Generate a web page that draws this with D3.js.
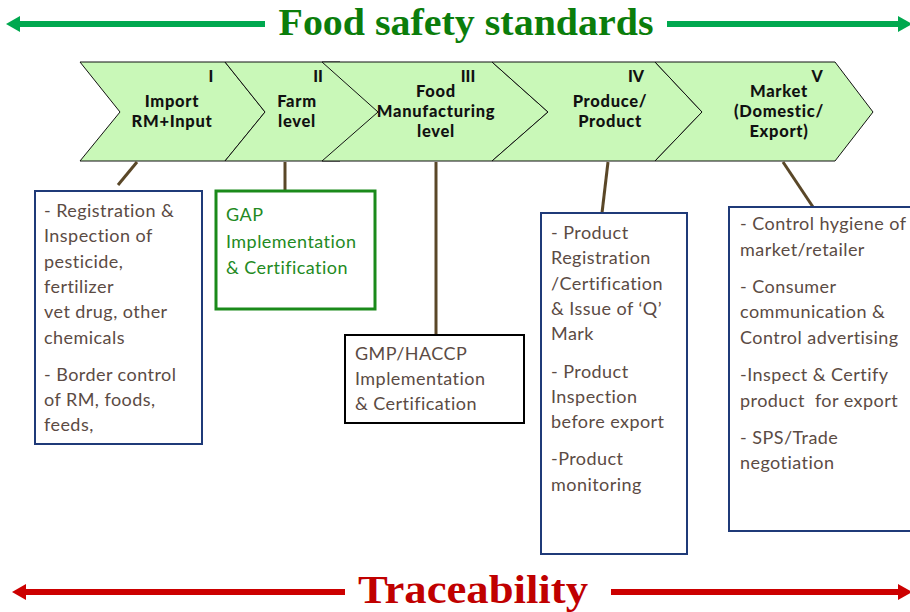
<!DOCTYPE html>
<html><head><meta charset="utf-8">
<script src="https://cdn.jsdelivr.net/npm/d3@7"></script>
<style>body{margin:0;background:#fff}</style>
</head><body>
<svg id="c" width="910" height="612"></svg>
<script>
// ---- data ----
const topTitle = "Food safety standards";
const bottomTitle = "Traceability";
const numerals = ["I", "II", "III", "IV", "V"];
const stageLabels = [
  ["Import", "RM+Input"],
  ["Farm", "level"],
  ["Food", "Manufacturing", "level"],
  ["Produce/", "Product"],
  ["Market", "(Domestic/", "Export)"]
];
const boxTexts = [
  [["- Registration &", "Inspection of", "pesticide,", "fertilizer", "vet drug, other", "chemicals"], ["- Border control", "of RM, foods,", "feeds,"]],
  [["GAP", "Implementation", "& Certification"]],
  [["GMP/HACCP", "Implementation", "& Certification"]],
  [["- Product", "Registration", "/Certification", "& Issue of \u2018Q\u2019", "Mark"], ["- Product", "Inspection", "before export"], ["-Product", "monitoring"]],
  [["- Control hygiene of", "market/retailer"], ["- Consumer", "communication &", "Control advertising"], ["-Inspect & Certify", "product  for export"], ["- SPS/Trade", "negotiation"]]
];

// ---- layout ----
const svg = d3.select("#c");
const chev = [ // x0 (top-left), x1 (top-right), depth of left notch, depth of tip
  {x0: 80, x1: 225, dn: 40, dt: 40, lx: 172, nx: 211},
  {x0: 225, x1: 340, dn: 40, dt: 38, lx: 297, nx: 318},
  {x0: 322, x1: 492, dn: 56, dt: 56, lx: 436, nx: 468},
  {x0: 492, x1: 655, dn: 56, dt: 47, lx: 610, nx: 636},
  {x0: 655, x1: 835, dn: 47, dt: 38, lx: 779, nx: 817}
];
const cTop = 62, cBot = 161, cMid = 112;
const boxes = [
  {x: 35, y: 191, w: 167, h: 253, stroke: "#1f3a78", sw: 2, color: "#5b4b44", tx: 44, ty: 217, lh: 25.3, gap: 12, conn: [137, 162, 118, 185]},
  {x: 216, y: 191, w: 159, h: 118, stroke: "#1a8a1a", sw: 3, color: "#238a23", tx: 226, ty: 221, lh: 26.5, gap: 0, conn: [285, 162, 285, 190]},
  {x: 345, y: 335, w: 179, h: 88, stroke: "#000", sw: 2, color: "#5b4b44", tx: 355, ty: 360, lh: 25, gap: 0, conn: [436, 162, 436, 334]},
  {x: 541, y: 213, w: 146, h: 341, stroke: "#1f3a78", sw: 2, color: "#5b4b44", tx: 551, ty: 239, lh: 25.3, gap: 12, conn: [608, 162, 602, 213]},
  {x: 729, y: 207, w: 200, h: 324, stroke: "#1f3a78", sw: 2, color: "#5b4b44", tx: 740, ty: 230, lh: 25.8, gap: 11, conn: [783, 162, 813, 207]}
];

// chevrons
const g = svg.append("g");
g.selectAll("path.chev").data(chev).join("path")
  .attr("class", "chev")
  .attr("d", c => d3.line()([[c.x0, cTop], [c.x1, cTop], [c.x1 + c.dt, cMid], [c.x1, cBot], [c.x0, cBot], [c.x0 + c.dn, cMid]]) + "Z")
  .attr("fill", "#c9f8b8").attr("stroke", "#111").attr("stroke-width", 1);

// numerals
g.selectAll("text.num").data(numerals).join("text")
  .attr("class", "num")
  .attr("x", (d, i) => chev[i].nx).attr("y", 82)
  .attr("text-anchor", "middle")
  .attr("font-family", "'Lato', sans-serif").attr("font-weight", 900)
  .attr("font-size", 16).attr("fill", "#111").text(d => d);

// stage labels
stageLabels.forEach((lines, i) => {
  const y0 = lines.length === 2 ? 107 : 97;
  g.append("text")
    .attr("text-anchor", "middle")
    .attr("font-family", "'Lato', sans-serif").attr("font-weight", 900)
    .attr("font-size", 16.5).attr("letter-spacing", 0.7).attr("fill", "#111")
    .selectAll("tspan").data(lines).join("tspan")
    .attr("x", chev[i].lx).attr("y", (d, j) => y0 + j * 20).text(d => d);
});

// connectors
svg.selectAll("line.conn").data(boxes).join("line")
  .attr("class", "conn")
  .attr("x1", b => b.conn[0]).attr("y1", b => b.conn[1])
  .attr("x2", b => b.conn[2]).attr("y2", b => b.conn[3])
  .attr("stroke", "#5a4728").attr("stroke-width", 3);

// boxes
svg.selectAll("rect.box").data(boxes).join("rect")
  .attr("class", "box")
  .attr("x", b => b.x).attr("y", b => b.y).attr("width", b => b.w).attr("height", b => b.h)
  .attr("fill", "#fff").attr("stroke", b => b.stroke).attr("stroke-width", b => b.sw);

boxTexts.forEach((groups, i) => {
  const b = boxes[i];
  const t = svg.append("text")
    .attr("font-family", "'Lato', sans-serif").attr("font-size", 18).attr("letter-spacing", 0.45)
    .attr("fill", b.color).attr("xml:space", "preserve");
  let y = b.ty;
  groups.forEach((lines, gi) => {
    if (gi > 0) y += b.gap;
    lines.forEach(l => {
      t.append("tspan").attr("x", b.tx).attr("y", y).text(l);
      y += b.lh;
    });
  });
});

// arrows
function arrowLine(y, xa, xb, color, dir) {
  svg.append("line").attr("x1", xa).attr("x2", xb).attr("y1", y).attr("y2", y)
    .attr("stroke", color).attr("stroke-width", 6);
  const tip = dir < 0 ? xa - 8 : xb + 8;
  const base = dir < 0 ? xa + 6 : xb - 6;
  svg.append("path").attr("d", d3.line()([[tip, y], [base, y - 8], [base, y + 8]]) + "Z").attr("fill", color);
}
arrowLine(24, 14, 265, "#00a84f", -1);
arrowLine(24, 667, 904, "#00a84f", 1);
arrowLine(592, 20, 345, "#cc0000", -1);
arrowLine(592, 611, 904, "#cc0000", 1);

svg.append("text").attr("x", 466).attr("y", 35).attr("text-anchor", "middle")
  .attr("font-family", "'Liberation Serif', serif").attr("font-weight", "bold")
  .attr("font-size", 37).attr("fill", "#0b7d0b")
  .attr("textLength", 375).attr("lengthAdjust", "spacingAndGlyphs").text(topTitle);
svg.append("text").attr("x", 473).attr("y", 603).attr("text-anchor", "middle")
  .attr("font-family", "'Liberation Serif', serif").attr("font-weight", "bold")
  .attr("font-size", 40).attr("fill", "#c00000")
  .attr("textLength", 230).attr("lengthAdjust", "spacingAndGlyphs").text(bottomTitle);
</script>
</body></html>
